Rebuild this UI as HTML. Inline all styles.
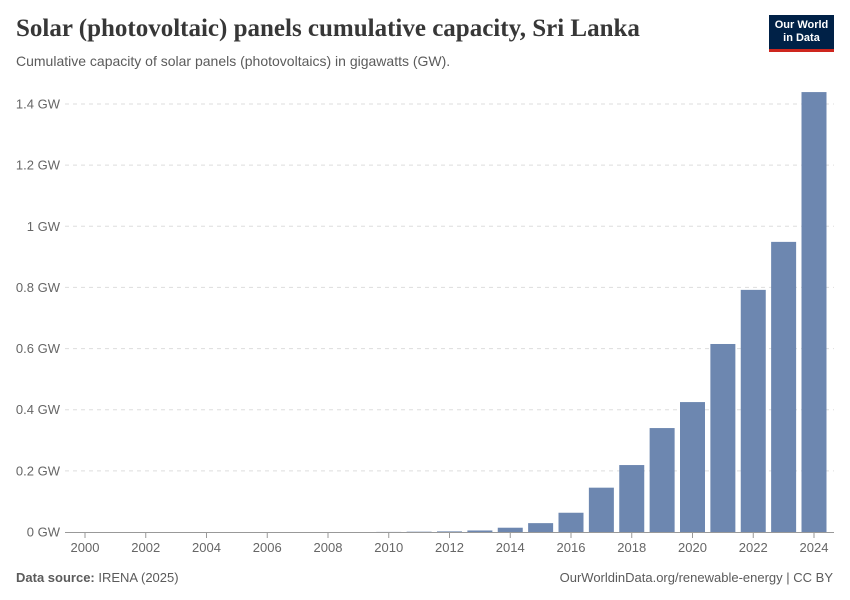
<!DOCTYPE html>
<html><head><meta charset="utf-8"><style>
body{margin:0;background:#fff;font-family:"Liberation Sans",sans-serif;}
#wrap{position:relative;width:850px;height:600px;overflow:hidden;}
.t{position:absolute;white-space:nowrap;}
</style></head><body>
<div id="wrap">
<div class="t" style="left:16px;top:15px;font-family:'Liberation Serif',serif;font-size:25px;font-weight:bold;color:#373737;">Solar (photovoltaic) panels cumulative capacity, Sri Lanka</div>
<div class="t" style="left:16px;top:53px;font-size:14px;color:#5b5b5b;">Cumulative capacity of solar panels (photovoltaics) in gigawatts (GW).</div>
<div style="position:absolute;left:769px;top:15px;width:65px;height:37px;background:#002147;border-bottom:3px solid #ce261e;color:#fff;font-size:11px;font-weight:bold;text-align:center;line-height:13px;padding-top:4px;box-sizing:border-box;">Our World<br>in Data</div>
<svg id="chart" width="850" height="600" style="position:absolute;left:0;top:0"></svg>
<div class="t" style="left:16px;top:570px;font-size:13px;color:#5b5b5b;"><b>Data source:</b> IRENA (2025)</div>
<div class="t" style="right:17px;top:570px;font-size:13px;color:#5b5b5b;">OurWorldinData.org/renewable-energy | CC BY</div>
</div>
<script>
const years=[2000,2001,2002,2003,2004,2005,2006,2007,2008,2009,2010,2011,2012,2013,2014,2015,2016,2017,2018,2019,2020,2021,2022,2023,2024];
const values=[0,0,0,0,0,0,0,0,0,0,0.0003,0.001,0.002,0.005,0.014,0.029,0.063,0.145,0.219,0.340,0.425,0.615,0.792,0.949,1.439];
const yTicks=[0,0.2,0.4,0.6,0.8,1,1.2,1.4];
const yTickLabels=["0 GW","0.2 GW","0.4 GW","0.6 GW","0.8 GW","1 GW","1.2 GW","1.4 GW"];
const xTickYears=[2000,2002,2004,2006,2008,2010,2012,2014,2016,2018,2020,2022,2024];
const svg=document.getElementById('chart');
const NS='http://www.w3.org/2000/svg';
const y=v=>532-v*(428/1.4);
const x=yr=>85+(yr-2000)*30.375;
function mk(tag,attrs){const e=document.createElementNS(NS,tag);for(const k in attrs)e.setAttribute(k,attrs[k]);svg.appendChild(e);return e;}
yTicks.forEach((v,i)=>{
  if(v>0){const l=mk('line',{x1:65,x2:834,y1:y(v),y2:y(v),stroke:'#ddd','stroke-dasharray':'4,4'});
  
  }
  const t=mk('text',{x:60,y:y(v)+4.5,'text-anchor':'end','font-size':13,fill:'#666','font-family':'Liberation Sans, sans-serif'});
  t.textContent=yTickLabels[i];
  
  
});
years.forEach((yr,i)=>{
  const h=532-y(values[i]);
  if(h<=0)return;
  const r=mk('rect',{x:x(yr)-12.5,y:y(values[i]),width:25,height:h,fill:'#6d87b0'});
  
  
});
const ax=mk('line',{x1:65,x2:834,y1:532.5,y2:532.5,stroke:'#999'});


xTickYears.forEach(yr=>{
  const tk=mk('line',{x1:x(yr),x2:x(yr),y1:533,y2:538,stroke:'#999'});
  
  
  const t=mk('text',{x:x(yr),y:552,'text-anchor':'middle','font-size':13,fill:'#666','font-family':'Liberation Sans, sans-serif'});
  t.textContent=yr;
  
  
});
</script>
</body></html>
